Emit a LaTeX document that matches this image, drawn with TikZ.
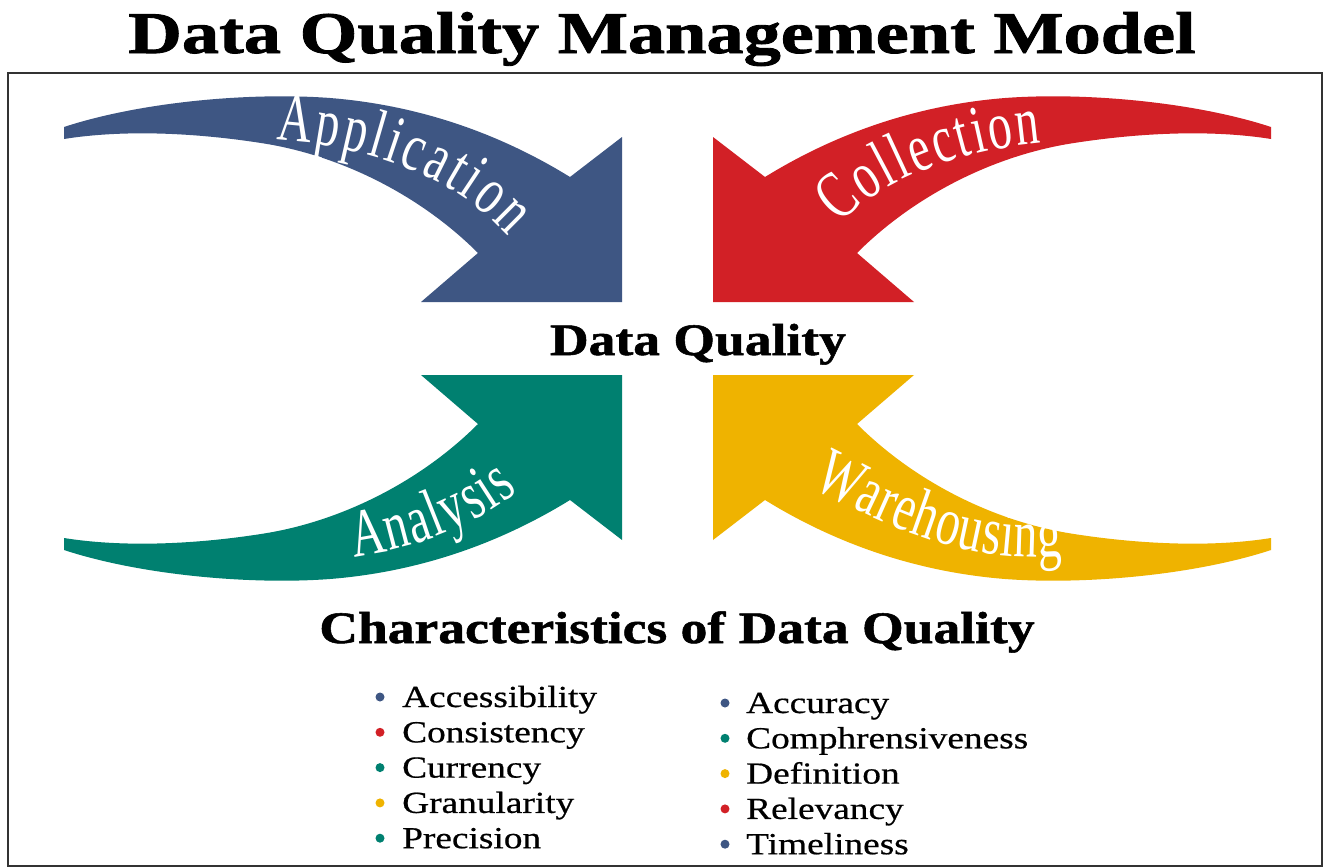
\documentclass[tikz,border=0pt]{standalone}
\usepackage{fontspec}
\setmainfont{Liberation Serif}
\newfontfamily\titlefam[FakeStretch=1.26,FakeBold=1.5]{Liberation Serif Bold}
\newfontfamily\headfam[FakeStretch=1.19,FakeBold=1.2]{Liberation Serif Bold}
\newfontfamily\listfam[FakeStretch=1.22,FakeBold=0.6]{Liberation Serif}
\newfontfamily\arrowfam[FakeStretch=0.7]{Liberation Serif}
\newcommand\titlefont{\fontsize{59}{59}\titlefam}
\newcommand\headfont{\fontsize{45}{45}\headfam}
\newcommand\listfont{\fontsize{30.6}{30.6}\listfam}
\newcommand\arrowfont{\fontsize{68}{68}\arrowfam}
\usepackage{tikz}
\usetikzlibrary{decorations.text}

\definecolor{appblue}{RGB}{62,86,131}
\definecolor{colred}{RGB}{210,32,38}
\definecolor{anateal}{RGB}{0,128,112}
\definecolor{waregold}{RGB}{239,179,0}

\tikzset{
  qshape/.style={insert path={(64,127) .. controls (140,102) and (250,92) .. (330,98)
      .. controls (430,106) and (510,140) .. (570,177) -- (622,137) -- (622,302)
      -- (421,302) -- (478,253) .. controls (420,195) and (340,155) .. (261,143)
      .. controls (190,132) and (120,130) .. (64,139) -- cycle}},
  arrowtext/.style={decorate,decoration={text along path,text align=fit to path,
      text color=white,text={|\arrowfont|#1}}},
  dot/.style={circle,inner sep=0pt,minimum size=9pt},
  item/.style={anchor=base west,inner sep=0pt,font=\listfont}
}

\begin{document}
\begin{tikzpicture}[x=1pt,y=-1pt]
\path[fill=white,use as bounding box] (0,0) rectangle (1325,867);
% frame
\draw[line width=2pt,black!80] (8,866) -- (8,73) -- (1322,73) -- (1322,866) -- cycle;
\node[font=\titlefont,anchor=base,inner sep=0pt] (title) at (662,53) {Data Quality Management Model};

% the four arrows
\fill[appblue,qshape];
\begin{scope}[xshift=1335pt,xscale=-1]
  \fill[colred,qshape];
\end{scope}
\begin{scope}[yshift=-677pt,yscale=-1]
  \fill[anateal,qshape];
\end{scope}
\begin{scope}[xshift=1335pt,yshift=-677pt,xscale=-1,yscale=-1]
  \fill[waregold,qshape];
\end{scope}
\path[arrowtext=Application] (276,140) .. controls (360,145) and (450,172) .. (508,236);
\path[arrowtext=Collection] (840,224) .. controls (880,180) and (960,150) .. (1041,143);
\path[arrowtext=Analysis] (354,557) .. controls (420,548) and (475,525) .. (518,491);
\path[arrowtext=Warehousing] (812,487) .. controls (880,522) and (960,565) .. (1062,556);

\node[font=\headfont,anchor=base,inner sep=0pt] (dq) at (698,355) {Data Quality};
\node[font=\headfont,anchor=base,inner sep=0pt] (chars) at (677,643) {Characteristics of Data Quality};

% list of characteristics
\foreach \txt/\col [count=\i] in {Accessibility/appblue,Consistency/colred,Currency/anateal,Granularity/waregold,Precision/anateal} {
  \node[dot,fill=\col] (ld\i) at (380,{697+35.3*(\i-1)}) {};
  \node[item] (lt\i) at (402,{707+35.3*(\i-1)}) {\txt};
}
\foreach \txt/\col [count=\i] in {Accuracy/appblue,Comphrensiveness/anateal,Definition/waregold,Relevancy/colred,Timeliness/appblue} {
  \node[dot,fill=\col] (rd\i) at (725,{703+35.3*(\i-1)}) {};
  \node[item] (rt\i) at (746,{713+35.3*(\i-1)}) {\txt};
}
\end{tikzpicture}
\end{document}
